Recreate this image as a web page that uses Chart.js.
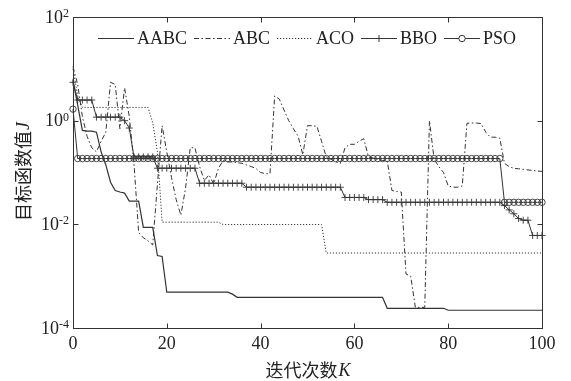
<!DOCTYPE html>
<html>
<head>
<meta charset="utf-8">
<script src="https://cdn.jsdelivr.net/npm/chart.js@4.4.1/dist/chart.umd.min.js"></script>
<style>
html, body { margin: 0; padding: 0; background: #fff; }
#wrap { width: 571px; height: 381px; }
</style>
</head>
<body>
<div id="wrap"><canvas id="c"></canvas></div>
<script>
// iterations K = 0..100
const iterations = [];
for (let k = 0; k <= 100; k++) iterations.push(k);

// objective values (log scale)
const aabc = [6, 2.0, 0.65, 0.63, 0.63, 0.6, 0.25, 0.14, 0.065, 0.045,
  0.042, 0.04, 0.028, 0.028, 0.028, 0.0087, 0.0087, 0.0087, 0.0025, 0.0024,
  0.00049, 0.00049, 0.00049, 0.00049, 0.00049, 0.00049, 0.00049, 0.00049, 0.00049, 0.00049,
  0.00049, 0.00049, 0.00049, 0.00049, 0.00045, 0.00039, 0.00039, 0.00039, 0.00039, 0.00039,
  0.00039, 0.00039, 0.00039, 0.00039, 0.00039, 0.00039, 0.00039, 0.00039, 0.00039, 0.00039,
  0.00039, 0.00039, 0.00039, 0.00039, 0.00039, 0.00039, 0.00039, 0.00039, 0.00039, 0.00039,
  0.00039, 0.00039, 0.00039, 0.00039, 0.00039, 0.00039, 0.00039, 0.00024, 0.00024, 0.00024,
  0.00024, 0.00024, 0.00024, 0.00024, 0.00024, 0.00024, 0.00024, 0.00024, 0.00024, 0.00024,
  0.00022, 0.00022, 0.00022, 0.00022, 0.00022, 0.00022, 0.00022, 0.00022, 0.00022, 0.00022,
  0.00022, 0.00022, 0.00022, 0.00022, 0.00022, 0.00022, 0.00022, 0.00022, 0.00022, 0.00022,
  0.00022];
const abc = [11, 5, 1.2, 0.5, 0.3, 0.25, 0.4, 0.6, 5.5, 5.0,
  0.7, 4.3, 1.2, 0.15, 0.007, 0.0055, 0.0048, 0.004, 0.06, 0.8,
  0.25, 0.08, 0.03, 0.015, 0.05, 0.3, 0.3, 0.13, 0.07, 0.09,
  0.06, 0.12, 0.17, 0.16, 0.16, 0.155, 0.15, 0.14, 0.13, 0.12,
  0.1, 0.095, 0.095, 3.0, 2.6, 1.6, 1.0, 0.7, 0.5, 0.22,
  0.8, 0.8, 0.78, 0.4, 0.2, 0.18, 0.16, 0.15, 0.3, 0.35,
  0.35, 0.4, 0.45, 0.2, 0.19, 0.18, 0.17, 0.17, 0.045, 0.043,
  0.042, 0.0011, 0.001, 0.00025, 0.00025, 0.00025, 1.0, 0.18, 0.13, 0.1,
  0.055, 0.052, 0.052, 0.055, 0.89, 0.9, 0.9, 0.88, 0.6, 0.48,
  0.48, 0.46, 0.15, 0.13, 0.12, 0.118, 0.115, 0.112, 0.11, 0.107,
  0.105];
const aco = [10, 3, 1.8, 1.8, 1.8, 1.8, 1.8, 1.8, 1.8, 1.8,
  1.8, 1.8, 1.8, 1.8, 1.8, 1.8, 1.8, 0.9, 0.25, 0.011,
  0.011, 0.011, 0.011, 0.011, 0.011, 0.011, 0.011, 0.011, 0.011, 0.011,
  0.011, 0.011, 0.0099, 0.0099, 0.0099, 0.0099, 0.0099, 0.0099, 0.0099, 0.0099,
  0.0099, 0.0099, 0.0099, 0.0099, 0.0099, 0.0099, 0.0099, 0.0099, 0.0099, 0.0099,
  0.0099, 0.0099, 0.0099, 0.0099, 0.0028, 0.0028, 0.0028, 0.0028, 0.0028, 0.0028,
  0.0028, 0.0028, 0.0028, 0.0028, 0.0028, 0.0028, 0.0028, 0.0028, 0.0028, 0.0028,
  0.0028, 0.0028, 0.0028, 0.0028, 0.0028, 0.0028, 0.0028, 0.0028, 0.0028, 0.0028,
  0.0028, 0.0028, 0.0028, 0.0028, 0.0028, 0.0028, 0.0028, 0.0028, 0.0028, 0.0028,
  0.0028, 0.0028, 0.0028, 0.0028, 0.0028, 0.0028, 0.0028, 0.0028, 0.0028, 0.0028,
  0.0028];
const bbo = [5.5, 2.5, 2.5, 2.5, 2.5, 1.17, 1.17, 1.17, 1.17, 1.17,
  1.17, 1.0, 0.72, 0.2, 0.2, 0.2, 0.2, 0.2, 0.121, 0.121,
  0.121, 0.121, 0.121, 0.121, 0.121, 0.121, 0.121, 0.062, 0.062, 0.062,
  0.062, 0.062, 0.062, 0.062, 0.062, 0.062, 0.062, 0.052, 0.052, 0.052,
  0.052, 0.052, 0.052, 0.052, 0.052, 0.052, 0.052, 0.052, 0.052, 0.052,
  0.052, 0.052, 0.052, 0.052, 0.052, 0.052, 0.052, 0.052, 0.033, 0.033,
  0.033, 0.033, 0.033, 0.03, 0.03, 0.03, 0.03, 0.0266, 0.0266, 0.0266,
  0.0266, 0.0266, 0.0266, 0.0266, 0.0266, 0.0266, 0.0266, 0.0266, 0.0266, 0.0266,
  0.0266, 0.0266, 0.0266, 0.0266, 0.0266, 0.0266, 0.0266, 0.0266, 0.0266, 0.0266,
  0.0266, 0.0266, 0.023, 0.019, 0.016, 0.013, 0.012, 0.012, 0.0061, 0.0061,
  0.0061];
const pso = [1.67, 0.186, 0.186, 0.186, 0.186, 0.186, 0.186, 0.186, 0.186, 0.186,
  0.186, 0.186, 0.186, 0.186, 0.186, 0.186, 0.186, 0.186, 0.186, 0.186,
  0.186, 0.186, 0.186, 0.186, 0.186, 0.186, 0.186, 0.186, 0.186, 0.186,
  0.186, 0.186, 0.186, 0.186, 0.186, 0.186, 0.186, 0.186, 0.186, 0.186,
  0.186, 0.186, 0.186, 0.186, 0.186, 0.186, 0.186, 0.186, 0.186, 0.186,
  0.186, 0.186, 0.186, 0.186, 0.186, 0.186, 0.186, 0.186, 0.186, 0.186,
  0.186, 0.186, 0.186, 0.186, 0.186, 0.186, 0.186, 0.186, 0.186, 0.186,
  0.186, 0.186, 0.186, 0.186, 0.186, 0.186, 0.186, 0.186, 0.186, 0.186,
  0.186, 0.186, 0.186, 0.186, 0.186, 0.186, 0.186, 0.186, 0.186, 0.186,
  0.186, 0.186, 0.0266, 0.0266, 0.0266, 0.0266, 0.0266, 0.0266, 0.0266, 0.0266,
  0.0266];

const xTickValues = [0, 20, 40, 60, 80, 100];
const yTickExps = [-4, -2, 0, 2];
const xTitle = ['迭代次数', 'K'];
const yTitle = ['目标函数值', 'J'];

const INK = '#333';
const SERIF = '"Liberation Serif", "Times New Roman", serif';
const CJK = '"Noto Sans CJK SC", sans-serif';

function mixedTitle(ctx, parts, cx, cy) {
    ctx.font = '18px ' + CJK;
    const w1 = ctx.measureText(parts[0]).width;
    ctx.font = 'italic 18px ' + SERIF;
    const w2 = ctx.measureText(parts[1]).width;
    const sx = cx - (w1 + w2) / 2;
    ctx.textAlign = 'left';
    ctx.textBaseline = 'middle';
    ctx.font = '18px ' + CJK;
    ctx.fillText(parts[0], sx, cy);
    ctx.font = 'italic 18px ' + SERIF;
    ctx.fillText(parts[1], sx + w1 + 1, cy + 1);
}

function seg(ctx, x1, y1, x2, y2) {
    ctx.beginPath();
    ctx.moveTo(x1, y1);
    ctx.lineTo(x2, y2);
    ctx.stroke();
}

// box, inward ticks, 10^n labels, axis titles, legend inside the box
const framePlugin = {
    id: 'frame',
    afterDatasetsDraw(chart) {
        const ctx = chart.ctx;
        const a = chart.chartArea;
        const x = chart.scales.x, y = chart.scales.y;
        ctx.save();
        ctx.strokeStyle = INK;
        ctx.fillStyle = '#222';
        ctx.lineWidth = 1;
        ctx.setLineDash([]);
        const L = Math.round(a.left) + 0.5, R = Math.round(a.right) + 0.5;
        const T = Math.round(a.top) + 0.5, B = Math.round(a.bottom) + 0.5;
        ctx.strokeRect(L, T, R - L, B - T);

        xTickValues.forEach(function(v) {
            const px = Math.round(x.getPixelForValue(v)) + 0.5;
            seg(ctx, px, B, px, B - 5);
            seg(ctx, px, T, px, T + 5);
        });
        yTickExps.forEach(function(e) {
            const py = Math.round(y.getPixelForValue(Math.pow(10, e))) + 0.5;
            seg(ctx, L, py, L + 5, py);
            seg(ctx, R, py, R - 5, py);
            // 10 with superscript exponent
            const yp = y.getPixelForValue(Math.pow(10, e));
            ctx.font = '12px ' + SERIF;
            const sup = String(e);
            const sw = ctx.measureText(sup).width;
            ctx.textAlign = 'right';
            ctx.textBaseline = 'alphabetic';
            ctx.fillText(sup, a.left - 4, yp);
            ctx.font = '18px ' + SERIF;
            ctx.textBaseline = 'middle';
            ctx.fillText('10', a.left - 4 - sw, yp + 1);
        });

        mixedTitle(ctx, xTitle, (a.left + a.right) / 2, 370);
        ctx.save();
        ctx.translate(23, 172);
        ctx.rotate(-Math.PI / 2);
        mixedTitle(ctx, yTitle, 0, 0);
        ctx.restore();

        // legend
        let lx = 98;
        const ly = 38.5;
        chart.data.datasets.forEach(function(ds) {
            ctx.strokeStyle = INK;
            ctx.lineWidth = ds.borderWidth;
            ctx.setLineDash(ds.borderDash || []);
            seg(ctx, lx, ly, lx + 36, ly);
            ctx.setLineDash([]);
            ctx.lineWidth = 1;
            const mx = lx + 18;
            if (ds.pointStyle === 'cross') {
                seg(ctx, mx - 3.5, ly, mx + 3.5, ly);
                seg(ctx, mx, ly - 3.5, mx, ly + 3.5);
            } else if (ds.pointStyle === 'circle' && ds.pointRadius > 0) {
                ctx.fillStyle = '#fff';
                ctx.beginPath();
                ctx.arc(mx, ly, ds.pointRadius, 0, Math.PI * 2);
                ctx.fill();
                ctx.stroke();
            }
            ctx.fillStyle = '#222';
            ctx.font = '18px ' + SERIF;
            ctx.textAlign = 'left';
            ctx.textBaseline = 'middle';
            ctx.fillText(ds.label, lx + 39, ly + 1);
            lx += 39 + ctx.measureText(ds.label).width + 7;
        });
        ctx.restore();
    }
};

function series(label, values, dash, width, style, radius) {
    return {
        label: label,
        data: values,
        borderColor: INK,
        borderWidth: width,
        borderDash: dash,
        pointStyle: style,
        pointRadius: radius,
        pointBorderColor: INK,
        pointBorderWidth: 0.9,
        pointBackgroundColor: 'rgba(0,0,0,0)',
        tension: 0,
        fill: false,
        clip: false
    };
}

new Chart(document.getElementById('c'), {
    type: 'line',
    data: {
        labels: iterations,
        datasets: [
            series('AABC', aabc, [], 1.2, 'circle', 0),
            series('ABC', abc, [5, 2.5, 1.5, 2.5], 1, 'circle', 0),
            series('ACO', aco, [1.2, 1.8], 1, 'circle', 0),
            series('BBO', bbo, [], 1, 'cross', 3.5),
            series('PSO', pso, [], 1, 'circle', 3.2)
        ]
    },
    options: {
        responsive: true,
        maintainAspectRatio: false,
        animation: false,
        devicePixelRatio: 1,
        layout: { padding: { left: 73, right: 29, top: 17, bottom: 31 } },
        plugins: { legend: { display: false }, tooltip: { enabled: false } },
        scales: {
            x: {
                type: 'linear',
                min: 0,
                max: 100,
                afterFit: function(s) { s.height = 22; },
                afterBuildTicks: function(s) { s.ticks = xTickValues.map(function(v) { return { value: v }; }); },
                grid: { display: false, drawTicks: false },
                border: { display: false },
                ticks: {
                    font: { family: SERIF, size: 18 },
                    color: '#222',
                    padding: 5,
                    maxRotation: 0,
                    autoSkip: false
                }
            },
            y: {
                type: 'logarithmic',
                min: 1e-4,
                max: 1e2,
                display: false
            }
        }
    },
    plugins: [framePlugin]
});
</script>
</body>
</html>
